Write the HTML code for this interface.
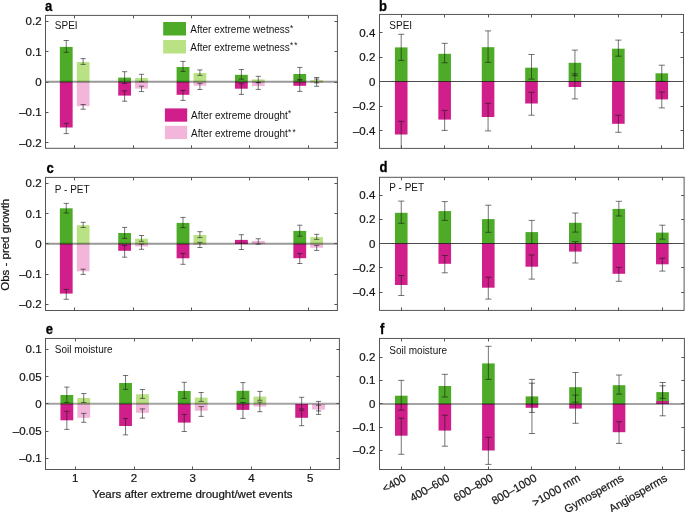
<!DOCTYPE html>
<html><head><meta charset="utf-8"><style>
html,body{margin:0;padding:0;background:#fff;}
svg{display:block;font-family:"Liberation Sans", sans-serif;}
text{fill:#151515;}
text[font-size="11.5"],text[font-size="11.2"]{stroke:#151515;stroke-width:0.22px;}
text[font-size="14.5"]{fill:#000;stroke:#000;stroke-width:0.3px;}
</style></head><body>
<svg width="685" height="512" viewBox="0 0 685 512">
<rect x="0" y="0" width="685" height="512" fill="#fff"/>
<rect x="59.84" y="46.90" width="12.80" height="35.10" fill="#4dab28"/>
<rect x="59.84" y="82.00" width="12.80" height="45.50" fill="#d01f8b"/>
<rect x="76.74" y="62.10" width="12.80" height="19.90" fill="#b9e285"/>
<rect x="76.74" y="82.00" width="12.80" height="24.20" fill="#f1b6d9"/>
<rect x="118.22" y="77.60" width="12.80" height="4.40" fill="#4dab28"/>
<rect x="118.22" y="82.00" width="12.80" height="13.60" fill="#d01f8b"/>
<rect x="135.12" y="78.00" width="12.80" height="4.00" fill="#b9e285"/>
<rect x="135.12" y="82.00" width="12.80" height="6.60" fill="#f1b6d9"/>
<rect x="176.60" y="67.00" width="12.80" height="15.00" fill="#4dab28"/>
<rect x="176.60" y="82.00" width="12.80" height="12.80" fill="#d01f8b"/>
<rect x="193.50" y="73.00" width="12.80" height="9.00" fill="#b9e285"/>
<rect x="193.50" y="82.00" width="12.80" height="3.70" fill="#f1b6d9"/>
<rect x="234.98" y="74.80" width="12.80" height="7.20" fill="#4dab28"/>
<rect x="234.98" y="82.00" width="12.80" height="6.70" fill="#d01f8b"/>
<rect x="251.88" y="79.40" width="12.80" height="2.60" fill="#b9e285"/>
<rect x="251.88" y="82.00" width="12.80" height="4.10" fill="#f1b6d9"/>
<rect x="293.36" y="74.00" width="12.80" height="8.00" fill="#4dab28"/>
<rect x="293.36" y="82.00" width="12.80" height="3.80" fill="#d01f8b"/>
<rect x="310.26" y="80.20" width="12.80" height="1.80" fill="#b9e285"/>
<rect x="310.26" y="82.00" width="12.80" height="0.60" fill="#f1b6d9"/>
<line x1="45.50" y1="81.75" x2="337.40" y2="81.75" stroke="#999999" stroke-width="2" style="mix-blend-mode:multiply"/>
<line x1="66.24" y1="40.50" x2="66.24" y2="52.30" stroke="#1a1a1a" stroke-width="0.6" />
<line x1="63.64" y1="40.50" x2="68.84" y2="40.50" stroke="#1a1a1a" stroke-width="0.6" />
<line x1="63.64" y1="52.30" x2="68.84" y2="52.30" stroke="#1a1a1a" stroke-width="0.6" />
<line x1="66.24" y1="123.30" x2="66.24" y2="133.60" stroke="#1a1a1a" stroke-width="0.6" />
<line x1="63.64" y1="123.30" x2="68.84" y2="123.30" stroke="#1a1a1a" stroke-width="0.6" />
<line x1="63.64" y1="133.60" x2="68.84" y2="133.60" stroke="#1a1a1a" stroke-width="0.6" />
<line x1="83.14" y1="58.60" x2="83.14" y2="64.40" stroke="#1a1a1a" stroke-width="0.6" />
<line x1="80.54" y1="58.60" x2="85.74" y2="58.60" stroke="#1a1a1a" stroke-width="0.6" />
<line x1="80.54" y1="64.40" x2="85.74" y2="64.40" stroke="#1a1a1a" stroke-width="0.6" />
<line x1="83.14" y1="104.50" x2="83.14" y2="109.20" stroke="#1a1a1a" stroke-width="0.6" />
<line x1="80.54" y1="104.50" x2="85.74" y2="104.50" stroke="#1a1a1a" stroke-width="0.6" />
<line x1="80.54" y1="109.20" x2="85.74" y2="109.20" stroke="#1a1a1a" stroke-width="0.6" />
<line x1="124.62" y1="71.70" x2="124.62" y2="83.60" stroke="#1a1a1a" stroke-width="0.6" />
<line x1="122.02" y1="71.70" x2="127.22" y2="71.70" stroke="#1a1a1a" stroke-width="0.6" />
<line x1="122.02" y1="83.60" x2="127.22" y2="83.60" stroke="#1a1a1a" stroke-width="0.6" />
<line x1="124.62" y1="90.90" x2="124.62" y2="101.20" stroke="#1a1a1a" stroke-width="0.6" />
<line x1="122.02" y1="90.90" x2="127.22" y2="90.90" stroke="#1a1a1a" stroke-width="0.6" />
<line x1="122.02" y1="101.20" x2="127.22" y2="101.20" stroke="#1a1a1a" stroke-width="0.6" />
<line x1="141.52" y1="74.30" x2="141.52" y2="81.70" stroke="#1a1a1a" stroke-width="0.6" />
<line x1="138.92" y1="74.30" x2="144.12" y2="74.30" stroke="#1a1a1a" stroke-width="0.6" />
<line x1="138.92" y1="81.70" x2="144.12" y2="81.70" stroke="#1a1a1a" stroke-width="0.6" />
<line x1="141.52" y1="86.20" x2="141.52" y2="91.60" stroke="#1a1a1a" stroke-width="0.6" />
<line x1="138.92" y1="86.20" x2="144.12" y2="86.20" stroke="#1a1a1a" stroke-width="0.6" />
<line x1="138.92" y1="91.60" x2="144.12" y2="91.60" stroke="#1a1a1a" stroke-width="0.6" />
<line x1="183.00" y1="61.40" x2="183.00" y2="71.40" stroke="#1a1a1a" stroke-width="0.6" />
<line x1="180.40" y1="61.40" x2="185.60" y2="61.40" stroke="#1a1a1a" stroke-width="0.6" />
<line x1="180.40" y1="71.40" x2="185.60" y2="71.40" stroke="#1a1a1a" stroke-width="0.6" />
<line x1="183.00" y1="90.40" x2="183.00" y2="100.40" stroke="#1a1a1a" stroke-width="0.6" />
<line x1="180.40" y1="90.40" x2="185.60" y2="90.40" stroke="#1a1a1a" stroke-width="0.6" />
<line x1="180.40" y1="100.40" x2="185.60" y2="100.40" stroke="#1a1a1a" stroke-width="0.6" />
<line x1="199.90" y1="69.90" x2="199.90" y2="75.40" stroke="#1a1a1a" stroke-width="0.6" />
<line x1="197.30" y1="69.90" x2="202.50" y2="69.90" stroke="#1a1a1a" stroke-width="0.6" />
<line x1="197.30" y1="75.40" x2="202.50" y2="75.40" stroke="#1a1a1a" stroke-width="0.6" />
<line x1="199.90" y1="83.40" x2="199.90" y2="89.50" stroke="#1a1a1a" stroke-width="0.6" />
<line x1="197.30" y1="83.40" x2="202.50" y2="83.40" stroke="#1a1a1a" stroke-width="0.6" />
<line x1="197.30" y1="89.50" x2="202.50" y2="89.50" stroke="#1a1a1a" stroke-width="0.6" />
<line x1="241.38" y1="69.50" x2="241.38" y2="79.20" stroke="#1a1a1a" stroke-width="0.6" />
<line x1="238.78" y1="69.50" x2="243.98" y2="69.50" stroke="#1a1a1a" stroke-width="0.6" />
<line x1="238.78" y1="79.20" x2="243.98" y2="79.20" stroke="#1a1a1a" stroke-width="0.6" />
<line x1="241.38" y1="83.60" x2="241.38" y2="94.40" stroke="#1a1a1a" stroke-width="0.6" />
<line x1="238.78" y1="83.60" x2="243.98" y2="83.60" stroke="#1a1a1a" stroke-width="0.6" />
<line x1="238.78" y1="94.40" x2="243.98" y2="94.40" stroke="#1a1a1a" stroke-width="0.6" />
<line x1="258.28" y1="76.30" x2="258.28" y2="82.50" stroke="#1a1a1a" stroke-width="0.6" />
<line x1="255.68" y1="76.30" x2="260.88" y2="76.30" stroke="#1a1a1a" stroke-width="0.6" />
<line x1="255.68" y1="82.50" x2="260.88" y2="82.50" stroke="#1a1a1a" stroke-width="0.6" />
<line x1="258.28" y1="82.80" x2="258.28" y2="89.40" stroke="#1a1a1a" stroke-width="0.6" />
<line x1="255.68" y1="82.80" x2="260.88" y2="82.80" stroke="#1a1a1a" stroke-width="0.6" />
<line x1="255.68" y1="89.40" x2="260.88" y2="89.40" stroke="#1a1a1a" stroke-width="0.6" />
<line x1="299.76" y1="67.40" x2="299.76" y2="79.40" stroke="#1a1a1a" stroke-width="0.6" />
<line x1="297.16" y1="67.40" x2="302.36" y2="67.40" stroke="#1a1a1a" stroke-width="0.6" />
<line x1="297.16" y1="79.40" x2="302.36" y2="79.40" stroke="#1a1a1a" stroke-width="0.6" />
<line x1="299.76" y1="80.20" x2="299.76" y2="91.40" stroke="#1a1a1a" stroke-width="0.6" />
<line x1="297.16" y1="80.20" x2="302.36" y2="80.20" stroke="#1a1a1a" stroke-width="0.6" />
<line x1="297.16" y1="91.40" x2="302.36" y2="91.40" stroke="#1a1a1a" stroke-width="0.6" />
<line x1="316.66" y1="77.50" x2="316.66" y2="82.90" stroke="#1a1a1a" stroke-width="0.6" />
<line x1="314.06" y1="77.50" x2="319.26" y2="77.50" stroke="#1a1a1a" stroke-width="0.6" />
<line x1="314.06" y1="82.90" x2="319.26" y2="82.90" stroke="#1a1a1a" stroke-width="0.6" />
<line x1="316.66" y1="79.00" x2="316.66" y2="86.30" stroke="#1a1a1a" stroke-width="0.6" />
<line x1="314.06" y1="79.00" x2="319.26" y2="79.00" stroke="#1a1a1a" stroke-width="0.6" />
<line x1="314.06" y1="86.30" x2="319.26" y2="86.30" stroke="#1a1a1a" stroke-width="0.6" />
<rect x="45.5" y="15.4" width="291.90" height="132.90" fill="none" stroke="#555555" stroke-width="1"/>
<line x1="74.50" y1="148.30" x2="74.50" y2="145.30" stroke="#555555" stroke-width="1" />
<line x1="74.50" y1="15.40" x2="74.50" y2="18.40" stroke="#555555" stroke-width="1" />
<line x1="133.50" y1="148.30" x2="133.50" y2="145.30" stroke="#555555" stroke-width="1" />
<line x1="133.50" y1="15.40" x2="133.50" y2="18.40" stroke="#555555" stroke-width="1" />
<line x1="191.50" y1="148.30" x2="191.50" y2="145.30" stroke="#555555" stroke-width="1" />
<line x1="191.50" y1="15.40" x2="191.50" y2="18.40" stroke="#555555" stroke-width="1" />
<line x1="249.50" y1="148.30" x2="249.50" y2="145.30" stroke="#555555" stroke-width="1" />
<line x1="249.50" y1="15.40" x2="249.50" y2="18.40" stroke="#555555" stroke-width="1" />
<line x1="308.50" y1="148.30" x2="308.50" y2="145.30" stroke="#555555" stroke-width="1" />
<line x1="308.50" y1="15.40" x2="308.50" y2="18.40" stroke="#555555" stroke-width="1" />
<line x1="45.50" y1="21.50" x2="48.50" y2="21.50" stroke="#555555" stroke-width="1" />
<line x1="337.40" y1="21.50" x2="334.40" y2="21.50" stroke="#555555" stroke-width="1" />
<text x="41.60" y="25.24" font-size="11.5" text-anchor="end" font-weight="normal" >0.2</text>
<line x1="45.50" y1="51.50" x2="48.50" y2="51.50" stroke="#555555" stroke-width="1" />
<line x1="337.40" y1="51.50" x2="334.40" y2="51.50" stroke="#555555" stroke-width="1" />
<text x="41.60" y="55.57" font-size="11.5" text-anchor="end" font-weight="normal" >0.1</text>
<line x1="45.50" y1="82.50" x2="48.50" y2="82.50" stroke="#555555" stroke-width="1" />
<line x1="337.40" y1="82.50" x2="334.40" y2="82.50" stroke="#555555" stroke-width="1" />
<text x="41.60" y="85.90" font-size="11.5" text-anchor="end" font-weight="normal" >0</text>
<line x1="45.50" y1="112.50" x2="48.50" y2="112.50" stroke="#555555" stroke-width="1" />
<line x1="337.40" y1="112.50" x2="334.40" y2="112.50" stroke="#555555" stroke-width="1" />
<text x="41.60" y="116.23" font-size="11.5" text-anchor="end" font-weight="normal" >–0.1</text>
<line x1="45.50" y1="142.50" x2="48.50" y2="142.50" stroke="#555555" stroke-width="1" />
<line x1="337.40" y1="142.50" x2="334.40" y2="142.50" stroke="#555555" stroke-width="1" />
<text x="41.60" y="146.56" font-size="11.5" text-anchor="end" font-weight="normal" >–0.2</text>
<rect x="59.84" y="208.30" width="12.80" height="35.70" fill="#4dab28"/>
<rect x="59.84" y="244.00" width="12.80" height="49.60" fill="#d01f8b"/>
<rect x="76.74" y="225.20" width="12.80" height="18.80" fill="#b9e285"/>
<rect x="76.74" y="244.00" width="12.80" height="27.30" fill="#f1b6d9"/>
<rect x="118.22" y="233.00" width="12.80" height="11.00" fill="#4dab28"/>
<rect x="118.22" y="244.00" width="12.80" height="6.80" fill="#d01f8b"/>
<rect x="135.12" y="238.70" width="12.80" height="5.30" fill="#b9e285"/>
<rect x="135.12" y="244.00" width="12.80" height="2.50" fill="#f1b6d9"/>
<rect x="176.60" y="222.90" width="12.80" height="21.10" fill="#4dab28"/>
<rect x="176.60" y="244.00" width="12.80" height="14.30" fill="#d01f8b"/>
<rect x="193.50" y="234.90" width="12.80" height="9.10" fill="#b9e285"/>
<rect x="193.50" y="244.00" width="12.80" height="0.60" fill="#f1b6d9"/>
<rect x="234.98" y="241.50" width="12.80" height="2.50" fill="#4dab28"/>
<rect x="234.98" y="239.90" width="12.80" height="4.10" fill="#d01f8b"/>
<rect x="251.88" y="241.80" width="12.80" height="2.20" fill="#b9e285"/>
<rect x="251.88" y="240.90" width="12.80" height="3.10" fill="#f1b6d9"/>
<rect x="293.36" y="230.90" width="12.80" height="13.10" fill="#4dab28"/>
<rect x="293.36" y="244.00" width="12.80" height="14.20" fill="#d01f8b"/>
<rect x="310.26" y="237.10" width="12.80" height="6.90" fill="#b9e285"/>
<rect x="310.26" y="244.00" width="12.80" height="3.70" fill="#f1b6d9"/>
<line x1="45.50" y1="243.75" x2="337.40" y2="243.75" stroke="#999999" stroke-width="2" style="mix-blend-mode:multiply"/>
<line x1="66.24" y1="203.40" x2="66.24" y2="213.00" stroke="#1a1a1a" stroke-width="0.6" />
<line x1="63.64" y1="203.40" x2="68.84" y2="203.40" stroke="#1a1a1a" stroke-width="0.6" />
<line x1="63.64" y1="213.00" x2="68.84" y2="213.00" stroke="#1a1a1a" stroke-width="0.6" />
<line x1="66.24" y1="289.40" x2="66.24" y2="299.30" stroke="#1a1a1a" stroke-width="0.6" />
<line x1="63.64" y1="289.40" x2="68.84" y2="289.40" stroke="#1a1a1a" stroke-width="0.6" />
<line x1="63.64" y1="299.30" x2="68.84" y2="299.30" stroke="#1a1a1a" stroke-width="0.6" />
<line x1="83.14" y1="222.30" x2="83.14" y2="227.50" stroke="#1a1a1a" stroke-width="0.6" />
<line x1="80.54" y1="222.30" x2="85.74" y2="222.30" stroke="#1a1a1a" stroke-width="0.6" />
<line x1="80.54" y1="227.50" x2="85.74" y2="227.50" stroke="#1a1a1a" stroke-width="0.6" />
<line x1="83.14" y1="269.20" x2="83.14" y2="274.40" stroke="#1a1a1a" stroke-width="0.6" />
<line x1="80.54" y1="269.20" x2="85.74" y2="269.20" stroke="#1a1a1a" stroke-width="0.6" />
<line x1="80.54" y1="274.40" x2="85.74" y2="274.40" stroke="#1a1a1a" stroke-width="0.6" />
<line x1="124.62" y1="227.40" x2="124.62" y2="238.40" stroke="#1a1a1a" stroke-width="0.6" />
<line x1="122.02" y1="227.40" x2="127.22" y2="227.40" stroke="#1a1a1a" stroke-width="0.6" />
<line x1="122.02" y1="238.40" x2="127.22" y2="238.40" stroke="#1a1a1a" stroke-width="0.6" />
<line x1="124.62" y1="245.40" x2="124.62" y2="257.20" stroke="#1a1a1a" stroke-width="0.6" />
<line x1="122.02" y1="245.40" x2="127.22" y2="245.40" stroke="#1a1a1a" stroke-width="0.6" />
<line x1="122.02" y1="257.20" x2="127.22" y2="257.20" stroke="#1a1a1a" stroke-width="0.6" />
<line x1="141.52" y1="235.50" x2="141.52" y2="241.30" stroke="#1a1a1a" stroke-width="0.6" />
<line x1="138.92" y1="235.50" x2="144.12" y2="235.50" stroke="#1a1a1a" stroke-width="0.6" />
<line x1="138.92" y1="241.30" x2="144.12" y2="241.30" stroke="#1a1a1a" stroke-width="0.6" />
<line x1="141.52" y1="244.00" x2="141.52" y2="249.30" stroke="#1a1a1a" stroke-width="0.6" />
<line x1="138.92" y1="244.00" x2="144.12" y2="244.00" stroke="#1a1a1a" stroke-width="0.6" />
<line x1="138.92" y1="249.30" x2="144.12" y2="249.30" stroke="#1a1a1a" stroke-width="0.6" />
<line x1="183.00" y1="217.40" x2="183.00" y2="227.60" stroke="#1a1a1a" stroke-width="0.6" />
<line x1="180.40" y1="217.40" x2="185.60" y2="217.40" stroke="#1a1a1a" stroke-width="0.6" />
<line x1="180.40" y1="227.60" x2="185.60" y2="227.60" stroke="#1a1a1a" stroke-width="0.6" />
<line x1="183.00" y1="253.40" x2="183.00" y2="264.30" stroke="#1a1a1a" stroke-width="0.6" />
<line x1="180.40" y1="253.40" x2="185.60" y2="253.40" stroke="#1a1a1a" stroke-width="0.6" />
<line x1="180.40" y1="264.30" x2="185.60" y2="264.30" stroke="#1a1a1a" stroke-width="0.6" />
<line x1="199.90" y1="231.70" x2="199.90" y2="237.60" stroke="#1a1a1a" stroke-width="0.6" />
<line x1="197.30" y1="231.70" x2="202.50" y2="231.70" stroke="#1a1a1a" stroke-width="0.6" />
<line x1="197.30" y1="237.60" x2="202.50" y2="237.60" stroke="#1a1a1a" stroke-width="0.6" />
<line x1="199.90" y1="242.30" x2="199.90" y2="247.50" stroke="#1a1a1a" stroke-width="0.6" />
<line x1="197.30" y1="242.30" x2="202.50" y2="242.30" stroke="#1a1a1a" stroke-width="0.6" />
<line x1="197.30" y1="247.50" x2="202.50" y2="247.50" stroke="#1a1a1a" stroke-width="0.6" />
<line x1="241.38" y1="234.70" x2="241.38" y2="249.50" stroke="#1a1a1a" stroke-width="0.6" />
<line x1="238.78" y1="234.70" x2="243.98" y2="234.70" stroke="#1a1a1a" stroke-width="0.6" />
<line x1="238.78" y1="249.50" x2="243.98" y2="249.50" stroke="#1a1a1a" stroke-width="0.6" />
<line x1="258.28" y1="238.75" x2="258.28" y2="244.20" stroke="#1a1a1a" stroke-width="0.6" />
<line x1="255.68" y1="238.75" x2="260.88" y2="238.75" stroke="#1a1a1a" stroke-width="0.6" />
<line x1="255.68" y1="244.20" x2="260.88" y2="244.20" stroke="#1a1a1a" stroke-width="0.6" />
<line x1="299.76" y1="225.20" x2="299.76" y2="236.20" stroke="#1a1a1a" stroke-width="0.6" />
<line x1="297.16" y1="225.20" x2="302.36" y2="225.20" stroke="#1a1a1a" stroke-width="0.6" />
<line x1="297.16" y1="236.20" x2="302.36" y2="236.20" stroke="#1a1a1a" stroke-width="0.6" />
<line x1="299.76" y1="253.50" x2="299.76" y2="263.50" stroke="#1a1a1a" stroke-width="0.6" />
<line x1="297.16" y1="253.50" x2="302.36" y2="253.50" stroke="#1a1a1a" stroke-width="0.6" />
<line x1="297.16" y1="263.50" x2="302.36" y2="263.50" stroke="#1a1a1a" stroke-width="0.6" />
<line x1="316.66" y1="234.30" x2="316.66" y2="239.40" stroke="#1a1a1a" stroke-width="0.6" />
<line x1="314.06" y1="234.30" x2="319.26" y2="234.30" stroke="#1a1a1a" stroke-width="0.6" />
<line x1="314.06" y1="239.40" x2="319.26" y2="239.40" stroke="#1a1a1a" stroke-width="0.6" />
<line x1="316.66" y1="245.40" x2="316.66" y2="250.40" stroke="#1a1a1a" stroke-width="0.6" />
<line x1="314.06" y1="245.40" x2="319.26" y2="245.40" stroke="#1a1a1a" stroke-width="0.6" />
<line x1="314.06" y1="250.40" x2="319.26" y2="250.40" stroke="#1a1a1a" stroke-width="0.6" />
<rect x="45.5" y="177.4" width="291.90" height="133.10" fill="none" stroke="#555555" stroke-width="1"/>
<line x1="74.50" y1="310.50" x2="74.50" y2="307.50" stroke="#555555" stroke-width="1" />
<line x1="74.50" y1="177.40" x2="74.50" y2="180.40" stroke="#555555" stroke-width="1" />
<line x1="133.50" y1="310.50" x2="133.50" y2="307.50" stroke="#555555" stroke-width="1" />
<line x1="133.50" y1="177.40" x2="133.50" y2="180.40" stroke="#555555" stroke-width="1" />
<line x1="191.50" y1="310.50" x2="191.50" y2="307.50" stroke="#555555" stroke-width="1" />
<line x1="191.50" y1="177.40" x2="191.50" y2="180.40" stroke="#555555" stroke-width="1" />
<line x1="249.50" y1="310.50" x2="249.50" y2="307.50" stroke="#555555" stroke-width="1" />
<line x1="249.50" y1="177.40" x2="249.50" y2="180.40" stroke="#555555" stroke-width="1" />
<line x1="308.50" y1="310.50" x2="308.50" y2="307.50" stroke="#555555" stroke-width="1" />
<line x1="308.50" y1="177.40" x2="308.50" y2="180.40" stroke="#555555" stroke-width="1" />
<line x1="45.50" y1="183.50" x2="48.50" y2="183.50" stroke="#555555" stroke-width="1" />
<line x1="337.40" y1="183.50" x2="334.40" y2="183.50" stroke="#555555" stroke-width="1" />
<text x="41.60" y="187.35" font-size="11.5" text-anchor="end" font-weight="normal" >0.2</text>
<line x1="45.50" y1="213.50" x2="48.50" y2="213.50" stroke="#555555" stroke-width="1" />
<line x1="337.40" y1="213.50" x2="334.40" y2="213.50" stroke="#555555" stroke-width="1" />
<text x="41.60" y="217.55" font-size="11.5" text-anchor="end" font-weight="normal" >0.1</text>
<line x1="45.50" y1="243.50" x2="48.50" y2="243.50" stroke="#555555" stroke-width="1" />
<line x1="337.40" y1="243.50" x2="334.40" y2="243.50" stroke="#555555" stroke-width="1" />
<text x="41.60" y="247.75" font-size="11.5" text-anchor="end" font-weight="normal" >0</text>
<line x1="45.50" y1="274.50" x2="48.50" y2="274.50" stroke="#555555" stroke-width="1" />
<line x1="337.40" y1="274.50" x2="334.40" y2="274.50" stroke="#555555" stroke-width="1" />
<text x="41.60" y="277.95" font-size="11.5" text-anchor="end" font-weight="normal" >–0.1</text>
<line x1="45.50" y1="304.50" x2="48.50" y2="304.50" stroke="#555555" stroke-width="1" />
<line x1="337.40" y1="304.50" x2="334.40" y2="304.50" stroke="#555555" stroke-width="1" />
<text x="41.60" y="308.15" font-size="11.5" text-anchor="end" font-weight="normal" >–0.2</text>
<rect x="60.45" y="395.00" width="12.80" height="9.00" fill="#4dab28"/>
<rect x="60.45" y="404.00" width="12.80" height="16.30" fill="#d01f8b"/>
<rect x="77.35" y="398.00" width="12.80" height="6.00" fill="#b9e285"/>
<rect x="77.35" y="404.00" width="12.80" height="13.80" fill="#f1b6d9"/>
<rect x="119.15" y="383.00" width="12.80" height="21.00" fill="#4dab28"/>
<rect x="119.15" y="404.00" width="12.80" height="22.00" fill="#d01f8b"/>
<rect x="136.05" y="394.20" width="12.80" height="9.80" fill="#b9e285"/>
<rect x="136.05" y="404.00" width="12.80" height="8.80" fill="#f1b6d9"/>
<rect x="177.85" y="390.90" width="12.80" height="13.10" fill="#4dab28"/>
<rect x="177.85" y="404.00" width="12.80" height="18.60" fill="#d01f8b"/>
<rect x="194.75" y="397.60" width="12.80" height="6.40" fill="#b9e285"/>
<rect x="194.75" y="404.00" width="12.80" height="6.70" fill="#f1b6d9"/>
<rect x="236.55" y="390.80" width="12.80" height="13.20" fill="#4dab28"/>
<rect x="236.55" y="404.00" width="12.80" height="5.90" fill="#d01f8b"/>
<rect x="253.45" y="396.60" width="12.80" height="7.40" fill="#b9e285"/>
<rect x="253.45" y="404.00" width="12.80" height="2.50" fill="#f1b6d9"/>
<rect x="295.25" y="404.00" width="12.80" height="0.00" fill="#4dab28"/>
<rect x="295.25" y="404.00" width="12.80" height="13.80" fill="#d01f8b"/>
<rect x="312.15" y="404.00" width="12.80" height="0.00" fill="#b9e285"/>
<rect x="312.15" y="404.00" width="12.80" height="5.60" fill="#f1b6d9"/>
<line x1="45.50" y1="403.75" x2="339.40" y2="403.75" stroke="#a3a3a3" stroke-width="2" style="mix-blend-mode:multiply"/>
<line x1="66.85" y1="387.10" x2="66.85" y2="402.50" stroke="#1a1a1a" stroke-width="0.6" />
<line x1="64.25" y1="387.10" x2="69.45" y2="387.10" stroke="#1a1a1a" stroke-width="0.6" />
<line x1="64.25" y1="402.50" x2="69.45" y2="402.50" stroke="#1a1a1a" stroke-width="0.6" />
<line x1="66.85" y1="411.30" x2="66.85" y2="429.40" stroke="#1a1a1a" stroke-width="0.6" />
<line x1="64.25" y1="411.30" x2="69.45" y2="411.30" stroke="#1a1a1a" stroke-width="0.6" />
<line x1="64.25" y1="429.40" x2="69.45" y2="429.40" stroke="#1a1a1a" stroke-width="0.6" />
<line x1="83.75" y1="393.50" x2="83.75" y2="402.50" stroke="#1a1a1a" stroke-width="0.6" />
<line x1="81.15" y1="393.50" x2="86.35" y2="393.50" stroke="#1a1a1a" stroke-width="0.6" />
<line x1="81.15" y1="402.50" x2="86.35" y2="402.50" stroke="#1a1a1a" stroke-width="0.6" />
<line x1="83.75" y1="413.40" x2="83.75" y2="422.30" stroke="#1a1a1a" stroke-width="0.6" />
<line x1="81.15" y1="413.40" x2="86.35" y2="413.40" stroke="#1a1a1a" stroke-width="0.6" />
<line x1="81.15" y1="422.30" x2="86.35" y2="422.30" stroke="#1a1a1a" stroke-width="0.6" />
<line x1="125.55" y1="375.50" x2="125.55" y2="389.40" stroke="#1a1a1a" stroke-width="0.6" />
<line x1="122.95" y1="375.50" x2="128.15" y2="375.50" stroke="#1a1a1a" stroke-width="0.6" />
<line x1="122.95" y1="389.40" x2="128.15" y2="389.40" stroke="#1a1a1a" stroke-width="0.6" />
<line x1="125.55" y1="418.50" x2="125.55" y2="434.90" stroke="#1a1a1a" stroke-width="0.6" />
<line x1="122.95" y1="418.50" x2="128.15" y2="418.50" stroke="#1a1a1a" stroke-width="0.6" />
<line x1="122.95" y1="434.90" x2="128.15" y2="434.90" stroke="#1a1a1a" stroke-width="0.6" />
<line x1="142.45" y1="389.50" x2="142.45" y2="398.40" stroke="#1a1a1a" stroke-width="0.6" />
<line x1="139.85" y1="389.50" x2="145.05" y2="389.50" stroke="#1a1a1a" stroke-width="0.6" />
<line x1="139.85" y1="398.40" x2="145.05" y2="398.40" stroke="#1a1a1a" stroke-width="0.6" />
<line x1="142.45" y1="408.90" x2="142.45" y2="418.10" stroke="#1a1a1a" stroke-width="0.6" />
<line x1="139.85" y1="408.90" x2="145.05" y2="408.90" stroke="#1a1a1a" stroke-width="0.6" />
<line x1="139.85" y1="418.10" x2="145.05" y2="418.10" stroke="#1a1a1a" stroke-width="0.6" />
<line x1="184.25" y1="382.30" x2="184.25" y2="398.40" stroke="#1a1a1a" stroke-width="0.6" />
<line x1="181.65" y1="382.30" x2="186.85" y2="382.30" stroke="#1a1a1a" stroke-width="0.6" />
<line x1="181.65" y1="398.40" x2="186.85" y2="398.40" stroke="#1a1a1a" stroke-width="0.6" />
<line x1="184.25" y1="414.40" x2="184.25" y2="431.50" stroke="#1a1a1a" stroke-width="0.6" />
<line x1="181.65" y1="414.40" x2="186.85" y2="414.40" stroke="#1a1a1a" stroke-width="0.6" />
<line x1="181.65" y1="431.50" x2="186.85" y2="431.50" stroke="#1a1a1a" stroke-width="0.6" />
<line x1="201.15" y1="392.50" x2="201.15" y2="401.40" stroke="#1a1a1a" stroke-width="0.6" />
<line x1="198.55" y1="392.50" x2="203.75" y2="392.50" stroke="#1a1a1a" stroke-width="0.6" />
<line x1="198.55" y1="401.40" x2="203.75" y2="401.40" stroke="#1a1a1a" stroke-width="0.6" />
<line x1="201.15" y1="406.60" x2="201.15" y2="416.40" stroke="#1a1a1a" stroke-width="0.6" />
<line x1="198.55" y1="406.60" x2="203.75" y2="406.60" stroke="#1a1a1a" stroke-width="0.6" />
<line x1="198.55" y1="416.40" x2="203.75" y2="416.40" stroke="#1a1a1a" stroke-width="0.6" />
<line x1="242.95" y1="382.60" x2="242.95" y2="398.40" stroke="#1a1a1a" stroke-width="0.6" />
<line x1="240.35" y1="382.60" x2="245.55" y2="382.60" stroke="#1a1a1a" stroke-width="0.6" />
<line x1="240.35" y1="398.40" x2="245.55" y2="398.40" stroke="#1a1a1a" stroke-width="0.6" />
<line x1="242.95" y1="402.50" x2="242.95" y2="418.40" stroke="#1a1a1a" stroke-width="0.6" />
<line x1="240.35" y1="402.50" x2="245.55" y2="402.50" stroke="#1a1a1a" stroke-width="0.6" />
<line x1="240.35" y1="418.40" x2="245.55" y2="418.40" stroke="#1a1a1a" stroke-width="0.6" />
<line x1="259.85" y1="391.40" x2="259.85" y2="400.30" stroke="#1a1a1a" stroke-width="0.6" />
<line x1="257.25" y1="391.40" x2="262.45" y2="391.40" stroke="#1a1a1a" stroke-width="0.6" />
<line x1="257.25" y1="400.30" x2="262.45" y2="400.30" stroke="#1a1a1a" stroke-width="0.6" />
<line x1="259.85" y1="402.10" x2="259.85" y2="411.70" stroke="#1a1a1a" stroke-width="0.6" />
<line x1="257.25" y1="402.10" x2="262.45" y2="402.10" stroke="#1a1a1a" stroke-width="0.6" />
<line x1="257.25" y1="411.70" x2="262.45" y2="411.70" stroke="#1a1a1a" stroke-width="0.6" />
<line x1="301.65" y1="397.30" x2="301.65" y2="409.00" stroke="#1a1a1a" stroke-width="0.6" />
<line x1="299.05" y1="397.30" x2="304.25" y2="397.30" stroke="#1a1a1a" stroke-width="0.6" />
<line x1="299.05" y1="409.00" x2="304.25" y2="409.00" stroke="#1a1a1a" stroke-width="0.6" />
<line x1="301.65" y1="410.30" x2="301.65" y2="425.70" stroke="#1a1a1a" stroke-width="0.6" />
<line x1="299.05" y1="410.30" x2="304.25" y2="410.30" stroke="#1a1a1a" stroke-width="0.6" />
<line x1="299.05" y1="425.70" x2="304.25" y2="425.70" stroke="#1a1a1a" stroke-width="0.6" />
<line x1="318.55" y1="401.40" x2="318.55" y2="411.00" stroke="#1a1a1a" stroke-width="0.6" />
<line x1="315.95" y1="401.40" x2="321.15" y2="401.40" stroke="#1a1a1a" stroke-width="0.6" />
<line x1="315.95" y1="411.00" x2="321.15" y2="411.00" stroke="#1a1a1a" stroke-width="0.6" />
<line x1="318.55" y1="405.20" x2="318.55" y2="414.40" stroke="#1a1a1a" stroke-width="0.6" />
<line x1="315.95" y1="405.20" x2="321.15" y2="405.20" stroke="#1a1a1a" stroke-width="0.6" />
<line x1="315.95" y1="414.40" x2="321.15" y2="414.40" stroke="#1a1a1a" stroke-width="0.6" />
<rect x="45.5" y="338.45" width="293.90" height="131.05" fill="none" stroke="#555555" stroke-width="1"/>
<line x1="75.50" y1="469.50" x2="75.50" y2="466.50" stroke="#555555" stroke-width="1" />
<line x1="75.50" y1="338.45" x2="75.50" y2="341.45" stroke="#555555" stroke-width="1" />
<line x1="134.50" y1="469.50" x2="134.50" y2="466.50" stroke="#555555" stroke-width="1" />
<line x1="134.50" y1="338.45" x2="134.50" y2="341.45" stroke="#555555" stroke-width="1" />
<line x1="192.50" y1="469.50" x2="192.50" y2="466.50" stroke="#555555" stroke-width="1" />
<line x1="192.50" y1="338.45" x2="192.50" y2="341.45" stroke="#555555" stroke-width="1" />
<line x1="251.50" y1="469.50" x2="251.50" y2="466.50" stroke="#555555" stroke-width="1" />
<line x1="251.50" y1="338.45" x2="251.50" y2="341.45" stroke="#555555" stroke-width="1" />
<line x1="310.50" y1="469.50" x2="310.50" y2="466.50" stroke="#555555" stroke-width="1" />
<line x1="310.50" y1="338.45" x2="310.50" y2="341.45" stroke="#555555" stroke-width="1" />
<line x1="45.50" y1="349.50" x2="48.50" y2="349.50" stroke="#555555" stroke-width="1" />
<line x1="339.40" y1="349.50" x2="336.40" y2="349.50" stroke="#555555" stroke-width="1" />
<text x="41.60" y="353.30" font-size="11.5" text-anchor="end" font-weight="normal" >0.1</text>
<line x1="45.50" y1="376.50" x2="48.50" y2="376.50" stroke="#555555" stroke-width="1" />
<line x1="339.40" y1="376.50" x2="336.40" y2="376.50" stroke="#555555" stroke-width="1" />
<text x="41.60" y="380.55" font-size="11.5" text-anchor="end" font-weight="normal" >0.05</text>
<line x1="45.50" y1="403.50" x2="48.50" y2="403.50" stroke="#555555" stroke-width="1" />
<line x1="339.40" y1="403.50" x2="336.40" y2="403.50" stroke="#555555" stroke-width="1" />
<text x="41.60" y="407.80" font-size="11.5" text-anchor="end" font-weight="normal" >0</text>
<line x1="45.50" y1="431.50" x2="48.50" y2="431.50" stroke="#555555" stroke-width="1" />
<line x1="339.40" y1="431.50" x2="336.40" y2="431.50" stroke="#555555" stroke-width="1" />
<text x="41.60" y="435.05" font-size="11.5" text-anchor="end" font-weight="normal" >–0.05</text>
<line x1="45.50" y1="458.50" x2="48.50" y2="458.50" stroke="#555555" stroke-width="1" />
<line x1="339.40" y1="458.50" x2="336.40" y2="458.50" stroke="#555555" stroke-width="1" />
<text x="41.60" y="462.30" font-size="11.5" text-anchor="end" font-weight="normal" >–0.1</text>
<text x="75.30" y="482.30" font-size="11.5" text-anchor="middle" font-weight="normal" >1</text>
<text x="134.00" y="482.30" font-size="11.5" text-anchor="middle" font-weight="normal" >2</text>
<text x="192.70" y="482.30" font-size="11.5" text-anchor="middle" font-weight="normal" >3</text>
<text x="251.40" y="482.30" font-size="11.5" text-anchor="middle" font-weight="normal" >4</text>
<text x="310.10" y="482.30" font-size="11.5" text-anchor="middle" font-weight="normal" >5</text>
<text x="192.45" y="497.90" font-size="11.5" text-anchor="middle" font-weight="normal" >Years after extreme drought/wet events</text>
<text x="54.80" y="28.70" font-size="10" text-anchor="start" font-weight="normal" >SPEI</text>
<text x="54.80" y="192.50" font-size="10" text-anchor="start" font-weight="normal" >P - PET</text>
<text x="54.80" y="352.90" font-size="10" text-anchor="start" font-weight="normal" >Soil moisture</text>
<rect x="163.20" y="22.00" width="22.80" height="13.50" fill="#4dab28"/>
<text x="190.30" y="33.20" font-size="10" text-anchor="start" font-weight="normal" >After extreme wetness<tspan font-size="8.2" dx="0.3" dy="-2.2">*</tspan></text>
<rect x="163.20" y="40.00" width="22.80" height="13.50" fill="#b9e285"/>
<text x="190.30" y="50.60" font-size="10" text-anchor="start" font-weight="normal" >After extreme wetness<tspan font-size="8.2" dx="0.3" dy="-2.2" letter-spacing="1.1">**</tspan></text>
<rect x="164.90" y="108.40" width="22.30" height="13.30" fill="#d01f8b"/>
<text x="191.10" y="118.60" font-size="10" text-anchor="start" font-weight="normal" >After extreme drought<tspan font-size="8.2" dx="0.3" dy="-2.2">*</tspan></text>
<rect x="164.90" y="125.80" width="22.30" height="13.30" fill="#f1b6d9"/>
<text x="191.10" y="137.00" font-size="10" text-anchor="start" font-weight="normal" >After extreme drought<tspan font-size="8.2" dx="0.3" dy="-2.2" letter-spacing="1.1">**</tspan></text>
<rect x="394.91" y="47.40" width="12.60" height="34.10" fill="#4dab28"/>
<rect x="394.91" y="81.50" width="12.60" height="53.00" fill="#d01f8b"/>
<rect x="438.34" y="53.80" width="12.60" height="27.70" fill="#4dab28"/>
<rect x="438.34" y="81.50" width="12.60" height="38.10" fill="#d01f8b"/>
<rect x="481.77" y="47.20" width="12.60" height="34.30" fill="#4dab28"/>
<rect x="481.77" y="81.50" width="12.60" height="35.50" fill="#d01f8b"/>
<rect x="525.20" y="67.70" width="12.60" height="13.80" fill="#4dab28"/>
<rect x="525.20" y="81.50" width="12.60" height="22.00" fill="#d01f8b"/>
<rect x="568.63" y="62.80" width="12.60" height="18.70" fill="#4dab28"/>
<rect x="568.63" y="81.50" width="12.60" height="5.50" fill="#d01f8b"/>
<rect x="612.06" y="48.70" width="12.60" height="32.80" fill="#4dab28"/>
<rect x="612.06" y="81.50" width="12.60" height="42.30" fill="#d01f8b"/>
<rect x="655.49" y="73.30" width="12.60" height="8.20" fill="#4dab28"/>
<rect x="655.49" y="81.50" width="12.60" height="17.90" fill="#d01f8b"/>
<line x1="379.50" y1="81.50" x2="683.50" y2="81.50" stroke="#4c4c4c" stroke-width="1" style="mix-blend-mode:multiply"/>
<line x1="401.21" y1="34.30" x2="401.21" y2="60.40" stroke="#1a1a1a" stroke-width="0.6" />
<line x1="398.11" y1="34.30" x2="404.31" y2="34.30" stroke="#1a1a1a" stroke-width="0.6" />
<line x1="398.11" y1="60.40" x2="404.31" y2="60.40" stroke="#1a1a1a" stroke-width="0.6" />
<line x1="401.21" y1="121.30" x2="401.21" y2="148.40" stroke="#1a1a1a" stroke-width="0.6" />
<line x1="398.11" y1="121.30" x2="404.31" y2="121.30" stroke="#1a1a1a" stroke-width="0.6" />
<line x1="444.64" y1="43.30" x2="444.64" y2="62.80" stroke="#1a1a1a" stroke-width="0.6" />
<line x1="441.54" y1="43.30" x2="447.74" y2="43.30" stroke="#1a1a1a" stroke-width="0.6" />
<line x1="441.54" y1="62.80" x2="447.74" y2="62.80" stroke="#1a1a1a" stroke-width="0.6" />
<line x1="444.64" y1="110.40" x2="444.64" y2="130.40" stroke="#1a1a1a" stroke-width="0.6" />
<line x1="441.54" y1="110.40" x2="447.74" y2="110.40" stroke="#1a1a1a" stroke-width="0.6" />
<line x1="441.54" y1="130.40" x2="447.74" y2="130.40" stroke="#1a1a1a" stroke-width="0.6" />
<line x1="488.07" y1="30.90" x2="488.07" y2="62.30" stroke="#1a1a1a" stroke-width="0.6" />
<line x1="484.97" y1="30.90" x2="491.17" y2="30.90" stroke="#1a1a1a" stroke-width="0.6" />
<line x1="484.97" y1="62.30" x2="491.17" y2="62.30" stroke="#1a1a1a" stroke-width="0.6" />
<line x1="488.07" y1="103.30" x2="488.07" y2="130.90" stroke="#1a1a1a" stroke-width="0.6" />
<line x1="484.97" y1="103.30" x2="491.17" y2="103.30" stroke="#1a1a1a" stroke-width="0.6" />
<line x1="484.97" y1="130.90" x2="491.17" y2="130.90" stroke="#1a1a1a" stroke-width="0.6" />
<line x1="531.50" y1="54.50" x2="531.50" y2="79.10" stroke="#1a1a1a" stroke-width="0.6" />
<line x1="528.40" y1="54.50" x2="534.60" y2="54.50" stroke="#1a1a1a" stroke-width="0.6" />
<line x1="528.40" y1="79.10" x2="534.60" y2="79.10" stroke="#1a1a1a" stroke-width="0.6" />
<line x1="531.50" y1="92.30" x2="531.50" y2="115.20" stroke="#1a1a1a" stroke-width="0.6" />
<line x1="528.40" y1="92.30" x2="534.60" y2="92.30" stroke="#1a1a1a" stroke-width="0.6" />
<line x1="528.40" y1="115.20" x2="534.60" y2="115.20" stroke="#1a1a1a" stroke-width="0.6" />
<line x1="574.93" y1="50.10" x2="574.93" y2="75.70" stroke="#1a1a1a" stroke-width="0.6" />
<line x1="571.83" y1="50.10" x2="578.03" y2="50.10" stroke="#1a1a1a" stroke-width="0.6" />
<line x1="571.83" y1="75.70" x2="578.03" y2="75.70" stroke="#1a1a1a" stroke-width="0.6" />
<line x1="574.93" y1="73.80" x2="574.93" y2="98.90" stroke="#1a1a1a" stroke-width="0.6" />
<line x1="571.83" y1="73.80" x2="578.03" y2="73.80" stroke="#1a1a1a" stroke-width="0.6" />
<line x1="571.83" y1="98.90" x2="578.03" y2="98.90" stroke="#1a1a1a" stroke-width="0.6" />
<line x1="618.36" y1="40.10" x2="618.36" y2="56.20" stroke="#1a1a1a" stroke-width="0.6" />
<line x1="615.26" y1="40.10" x2="621.46" y2="40.10" stroke="#1a1a1a" stroke-width="0.6" />
<line x1="615.26" y1="56.20" x2="621.46" y2="56.20" stroke="#1a1a1a" stroke-width="0.6" />
<line x1="618.36" y1="115.20" x2="618.36" y2="132.30" stroke="#1a1a1a" stroke-width="0.6" />
<line x1="615.26" y1="115.20" x2="621.46" y2="115.20" stroke="#1a1a1a" stroke-width="0.6" />
<line x1="615.26" y1="132.30" x2="621.46" y2="132.30" stroke="#1a1a1a" stroke-width="0.6" />
<line x1="661.79" y1="65.20" x2="661.79" y2="81.30" stroke="#1a1a1a" stroke-width="0.6" />
<line x1="658.69" y1="65.20" x2="664.89" y2="65.20" stroke="#1a1a1a" stroke-width="0.6" />
<line x1="658.69" y1="81.30" x2="664.89" y2="81.30" stroke="#1a1a1a" stroke-width="0.6" />
<line x1="661.79" y1="92.00" x2="661.79" y2="107.90" stroke="#1a1a1a" stroke-width="0.6" />
<line x1="658.69" y1="92.00" x2="664.89" y2="92.00" stroke="#1a1a1a" stroke-width="0.6" />
<line x1="658.69" y1="107.90" x2="664.89" y2="107.90" stroke="#1a1a1a" stroke-width="0.6" />
<rect x="379.5" y="14.45" width="304.00" height="133.95" fill="none" stroke="#555555" stroke-width="1"/>
<line x1="401.50" y1="148.40" x2="401.50" y2="145.40" stroke="#555555" stroke-width="1" />
<line x1="401.50" y1="14.45" x2="401.50" y2="17.45" stroke="#555555" stroke-width="1" />
<line x1="444.50" y1="148.40" x2="444.50" y2="145.40" stroke="#555555" stroke-width="1" />
<line x1="444.50" y1="14.45" x2="444.50" y2="17.45" stroke="#555555" stroke-width="1" />
<line x1="488.50" y1="148.40" x2="488.50" y2="145.40" stroke="#555555" stroke-width="1" />
<line x1="488.50" y1="14.45" x2="488.50" y2="17.45" stroke="#555555" stroke-width="1" />
<line x1="531.50" y1="148.40" x2="531.50" y2="145.40" stroke="#555555" stroke-width="1" />
<line x1="531.50" y1="14.45" x2="531.50" y2="17.45" stroke="#555555" stroke-width="1" />
<line x1="574.50" y1="148.40" x2="574.50" y2="145.40" stroke="#555555" stroke-width="1" />
<line x1="574.50" y1="14.45" x2="574.50" y2="17.45" stroke="#555555" stroke-width="1" />
<line x1="618.50" y1="148.40" x2="618.50" y2="145.40" stroke="#555555" stroke-width="1" />
<line x1="618.50" y1="14.45" x2="618.50" y2="17.45" stroke="#555555" stroke-width="1" />
<line x1="661.50" y1="148.40" x2="661.50" y2="145.40" stroke="#555555" stroke-width="1" />
<line x1="661.50" y1="14.45" x2="661.50" y2="17.45" stroke="#555555" stroke-width="1" />
<line x1="379.50" y1="32.50" x2="382.50" y2="32.50" stroke="#555555" stroke-width="1" />
<line x1="683.50" y1="32.50" x2="680.50" y2="32.50" stroke="#555555" stroke-width="1" />
<text x="375.30" y="36.50" font-size="11.5" text-anchor="end" font-weight="normal" >0.4</text>
<line x1="379.50" y1="57.50" x2="382.50" y2="57.50" stroke="#555555" stroke-width="1" />
<line x1="683.50" y1="57.50" x2="680.50" y2="57.50" stroke="#555555" stroke-width="1" />
<text x="375.30" y="61.00" font-size="11.5" text-anchor="end" font-weight="normal" >0.2</text>
<line x1="379.50" y1="81.50" x2="382.50" y2="81.50" stroke="#555555" stroke-width="1" />
<line x1="683.50" y1="81.50" x2="680.50" y2="81.50" stroke="#555555" stroke-width="1" />
<text x="375.30" y="85.50" font-size="11.5" text-anchor="end" font-weight="normal" >0</text>
<line x1="379.50" y1="106.50" x2="382.50" y2="106.50" stroke="#555555" stroke-width="1" />
<line x1="683.50" y1="106.50" x2="680.50" y2="106.50" stroke="#555555" stroke-width="1" />
<text x="375.30" y="110.00" font-size="11.5" text-anchor="end" font-weight="normal" >–0.2</text>
<line x1="379.50" y1="130.50" x2="382.50" y2="130.50" stroke="#555555" stroke-width="1" />
<line x1="683.50" y1="130.50" x2="680.50" y2="130.50" stroke="#555555" stroke-width="1" />
<text x="375.30" y="134.50" font-size="11.5" text-anchor="end" font-weight="normal" >–0.4</text>
<rect x="394.96" y="212.80" width="12.60" height="30.70" fill="#4dab28"/>
<rect x="394.96" y="243.50" width="12.60" height="41.50" fill="#d01f8b"/>
<rect x="438.47" y="211.10" width="12.60" height="32.40" fill="#4dab28"/>
<rect x="438.47" y="243.50" width="12.60" height="20.30" fill="#d01f8b"/>
<rect x="481.99" y="219.10" width="12.60" height="24.40" fill="#4dab28"/>
<rect x="481.99" y="243.50" width="12.60" height="44.20" fill="#d01f8b"/>
<rect x="525.50" y="232.10" width="12.60" height="11.40" fill="#4dab28"/>
<rect x="525.50" y="243.50" width="12.60" height="23.20" fill="#d01f8b"/>
<rect x="569.01" y="222.80" width="12.60" height="20.70" fill="#4dab28"/>
<rect x="569.01" y="243.50" width="12.60" height="8.10" fill="#d01f8b"/>
<rect x="612.53" y="208.90" width="12.60" height="34.60" fill="#4dab28"/>
<rect x="612.53" y="243.50" width="12.60" height="30.30" fill="#d01f8b"/>
<rect x="656.04" y="232.60" width="12.60" height="10.90" fill="#4dab28"/>
<rect x="656.04" y="243.50" width="12.60" height="20.80" fill="#d01f8b"/>
<line x1="379.50" y1="243.50" x2="684.10" y2="243.50" stroke="#4c4c4c" stroke-width="1" style="mix-blend-mode:multiply"/>
<line x1="401.26" y1="201.10" x2="401.26" y2="223.30" stroke="#1a1a1a" stroke-width="0.6" />
<line x1="398.16" y1="201.10" x2="404.36" y2="201.10" stroke="#1a1a1a" stroke-width="0.6" />
<line x1="398.16" y1="223.30" x2="404.36" y2="223.30" stroke="#1a1a1a" stroke-width="0.6" />
<line x1="401.26" y1="275.50" x2="401.26" y2="295.50" stroke="#1a1a1a" stroke-width="0.6" />
<line x1="398.16" y1="275.50" x2="404.36" y2="275.50" stroke="#1a1a1a" stroke-width="0.6" />
<line x1="398.16" y1="295.50" x2="404.36" y2="295.50" stroke="#1a1a1a" stroke-width="0.6" />
<line x1="444.77" y1="201.60" x2="444.77" y2="220.40" stroke="#1a1a1a" stroke-width="0.6" />
<line x1="441.67" y1="201.60" x2="447.87" y2="201.60" stroke="#1a1a1a" stroke-width="0.6" />
<line x1="441.67" y1="220.40" x2="447.87" y2="220.40" stroke="#1a1a1a" stroke-width="0.6" />
<line x1="444.77" y1="255.50" x2="444.77" y2="272.80" stroke="#1a1a1a" stroke-width="0.6" />
<line x1="441.67" y1="255.50" x2="447.87" y2="255.50" stroke="#1a1a1a" stroke-width="0.6" />
<line x1="441.67" y1="272.80" x2="447.87" y2="272.80" stroke="#1a1a1a" stroke-width="0.6" />
<line x1="488.29" y1="205.20" x2="488.29" y2="232.30" stroke="#1a1a1a" stroke-width="0.6" />
<line x1="485.19" y1="205.20" x2="491.39" y2="205.20" stroke="#1a1a1a" stroke-width="0.6" />
<line x1="485.19" y1="232.30" x2="491.39" y2="232.30" stroke="#1a1a1a" stroke-width="0.6" />
<line x1="488.29" y1="277.20" x2="488.29" y2="299.10" stroke="#1a1a1a" stroke-width="0.6" />
<line x1="485.19" y1="277.20" x2="491.39" y2="277.20" stroke="#1a1a1a" stroke-width="0.6" />
<line x1="485.19" y1="299.10" x2="491.39" y2="299.10" stroke="#1a1a1a" stroke-width="0.6" />
<line x1="531.80" y1="220.40" x2="531.80" y2="243.60" stroke="#1a1a1a" stroke-width="0.6" />
<line x1="528.70" y1="220.40" x2="534.90" y2="220.40" stroke="#1a1a1a" stroke-width="0.6" />
<line x1="528.70" y1="243.60" x2="534.90" y2="243.60" stroke="#1a1a1a" stroke-width="0.6" />
<line x1="531.80" y1="255.00" x2="531.80" y2="279.10" stroke="#1a1a1a" stroke-width="0.6" />
<line x1="528.70" y1="255.00" x2="534.90" y2="255.00" stroke="#1a1a1a" stroke-width="0.6" />
<line x1="528.70" y1="279.10" x2="534.90" y2="279.10" stroke="#1a1a1a" stroke-width="0.6" />
<line x1="575.31" y1="213.00" x2="575.31" y2="232.10" stroke="#1a1a1a" stroke-width="0.6" />
<line x1="572.21" y1="213.00" x2="578.41" y2="213.00" stroke="#1a1a1a" stroke-width="0.6" />
<line x1="572.21" y1="232.10" x2="578.41" y2="232.10" stroke="#1a1a1a" stroke-width="0.6" />
<line x1="575.31" y1="241.60" x2="575.31" y2="263.00" stroke="#1a1a1a" stroke-width="0.6" />
<line x1="572.21" y1="241.60" x2="578.41" y2="241.60" stroke="#1a1a1a" stroke-width="0.6" />
<line x1="572.21" y1="263.00" x2="578.41" y2="263.00" stroke="#1a1a1a" stroke-width="0.6" />
<line x1="618.83" y1="201.30" x2="618.83" y2="216.00" stroke="#1a1a1a" stroke-width="0.6" />
<line x1="615.73" y1="201.30" x2="621.93" y2="201.30" stroke="#1a1a1a" stroke-width="0.6" />
<line x1="615.73" y1="216.00" x2="621.93" y2="216.00" stroke="#1a1a1a" stroke-width="0.6" />
<line x1="618.83" y1="267.40" x2="618.83" y2="281.30" stroke="#1a1a1a" stroke-width="0.6" />
<line x1="615.73" y1="267.40" x2="621.93" y2="267.40" stroke="#1a1a1a" stroke-width="0.6" />
<line x1="615.73" y1="281.30" x2="621.93" y2="281.30" stroke="#1a1a1a" stroke-width="0.6" />
<line x1="662.34" y1="225.20" x2="662.34" y2="239.10" stroke="#1a1a1a" stroke-width="0.6" />
<line x1="659.24" y1="225.20" x2="665.44" y2="225.20" stroke="#1a1a1a" stroke-width="0.6" />
<line x1="659.24" y1="239.10" x2="665.44" y2="239.10" stroke="#1a1a1a" stroke-width="0.6" />
<line x1="662.34" y1="258.20" x2="662.34" y2="271.10" stroke="#1a1a1a" stroke-width="0.6" />
<line x1="659.24" y1="258.20" x2="665.44" y2="258.20" stroke="#1a1a1a" stroke-width="0.6" />
<line x1="659.24" y1="271.10" x2="665.44" y2="271.10" stroke="#1a1a1a" stroke-width="0.6" />
<rect x="379.5" y="177.3" width="304.60" height="133.10" fill="none" stroke="#555555" stroke-width="1"/>
<line x1="401.50" y1="310.40" x2="401.50" y2="307.40" stroke="#555555" stroke-width="1" />
<line x1="401.50" y1="177.30" x2="401.50" y2="180.30" stroke="#555555" stroke-width="1" />
<line x1="444.50" y1="310.40" x2="444.50" y2="307.40" stroke="#555555" stroke-width="1" />
<line x1="444.50" y1="177.30" x2="444.50" y2="180.30" stroke="#555555" stroke-width="1" />
<line x1="488.50" y1="310.40" x2="488.50" y2="307.40" stroke="#555555" stroke-width="1" />
<line x1="488.50" y1="177.30" x2="488.50" y2="180.30" stroke="#555555" stroke-width="1" />
<line x1="531.50" y1="310.40" x2="531.50" y2="307.40" stroke="#555555" stroke-width="1" />
<line x1="531.50" y1="177.30" x2="531.50" y2="180.30" stroke="#555555" stroke-width="1" />
<line x1="575.50" y1="310.40" x2="575.50" y2="307.40" stroke="#555555" stroke-width="1" />
<line x1="575.50" y1="177.30" x2="575.50" y2="180.30" stroke="#555555" stroke-width="1" />
<line x1="618.50" y1="310.40" x2="618.50" y2="307.40" stroke="#555555" stroke-width="1" />
<line x1="618.50" y1="177.30" x2="618.50" y2="180.30" stroke="#555555" stroke-width="1" />
<line x1="662.50" y1="310.40" x2="662.50" y2="307.40" stroke="#555555" stroke-width="1" />
<line x1="662.50" y1="177.30" x2="662.50" y2="180.30" stroke="#555555" stroke-width="1" />
<line x1="379.50" y1="195.50" x2="382.50" y2="195.50" stroke="#555555" stroke-width="1" />
<line x1="684.10" y1="195.50" x2="681.10" y2="195.50" stroke="#555555" stroke-width="1" />
<text x="375.30" y="199.10" font-size="11.5" text-anchor="end" font-weight="normal" >0.4</text>
<line x1="379.50" y1="219.50" x2="382.50" y2="219.50" stroke="#555555" stroke-width="1" />
<line x1="684.10" y1="219.50" x2="681.10" y2="219.50" stroke="#555555" stroke-width="1" />
<text x="375.30" y="223.30" font-size="11.5" text-anchor="end" font-weight="normal" >0.2</text>
<line x1="379.50" y1="243.50" x2="382.50" y2="243.50" stroke="#555555" stroke-width="1" />
<line x1="684.10" y1="243.50" x2="681.10" y2="243.50" stroke="#555555" stroke-width="1" />
<text x="375.30" y="247.50" font-size="11.5" text-anchor="end" font-weight="normal" >0</text>
<line x1="379.50" y1="267.50" x2="382.50" y2="267.50" stroke="#555555" stroke-width="1" />
<line x1="684.10" y1="267.50" x2="681.10" y2="267.50" stroke="#555555" stroke-width="1" />
<text x="375.30" y="271.70" font-size="11.5" text-anchor="end" font-weight="normal" >–0.2</text>
<line x1="379.50" y1="292.50" x2="382.50" y2="292.50" stroke="#555555" stroke-width="1" />
<line x1="684.10" y1="292.50" x2="681.10" y2="292.50" stroke="#555555" stroke-width="1" />
<text x="375.30" y="295.90" font-size="11.5" text-anchor="end" font-weight="normal" >–0.4</text>
<rect x="394.98" y="395.70" width="12.60" height="8.30" fill="#4dab28"/>
<rect x="394.98" y="404.00" width="12.60" height="31.70" fill="#d01f8b"/>
<rect x="438.54" y="386.00" width="12.60" height="18.00" fill="#4dab28"/>
<rect x="438.54" y="404.00" width="12.60" height="26.60" fill="#d01f8b"/>
<rect x="482.09" y="363.40" width="12.60" height="40.60" fill="#4dab28"/>
<rect x="482.09" y="404.00" width="12.60" height="46.50" fill="#d01f8b"/>
<rect x="525.65" y="396.40" width="12.60" height="7.60" fill="#4dab28"/>
<rect x="525.65" y="404.00" width="12.60" height="3.80" fill="#d01f8b"/>
<rect x="569.21" y="387.20" width="12.60" height="16.80" fill="#4dab28"/>
<rect x="569.21" y="404.00" width="12.60" height="4.60" fill="#d01f8b"/>
<rect x="612.76" y="385.20" width="12.60" height="18.80" fill="#4dab28"/>
<rect x="612.76" y="404.00" width="12.60" height="28.20" fill="#d01f8b"/>
<rect x="656.32" y="392.10" width="12.60" height="11.90" fill="#4dab28"/>
<rect x="656.32" y="401.00" width="12.60" height="3.00" fill="#d01f8b"/>
<line x1="379.50" y1="404.00" x2="684.40" y2="404.00" stroke="#a3a3a3" stroke-width="2" style="mix-blend-mode:multiply"/>
<line x1="401.28" y1="380.40" x2="401.28" y2="410.10" stroke="#1a1a1a" stroke-width="0.6" />
<line x1="398.18" y1="380.40" x2="404.38" y2="380.40" stroke="#1a1a1a" stroke-width="0.6" />
<line x1="398.18" y1="410.10" x2="404.38" y2="410.10" stroke="#1a1a1a" stroke-width="0.6" />
<line x1="401.28" y1="418.20" x2="401.28" y2="454.30" stroke="#1a1a1a" stroke-width="0.6" />
<line x1="398.18" y1="418.20" x2="404.38" y2="418.20" stroke="#1a1a1a" stroke-width="0.6" />
<line x1="398.18" y1="454.30" x2="404.38" y2="454.30" stroke="#1a1a1a" stroke-width="0.6" />
<line x1="444.84" y1="374.30" x2="444.84" y2="397.00" stroke="#1a1a1a" stroke-width="0.6" />
<line x1="441.74" y1="374.30" x2="447.94" y2="374.30" stroke="#1a1a1a" stroke-width="0.6" />
<line x1="441.74" y1="397.00" x2="447.94" y2="397.00" stroke="#1a1a1a" stroke-width="0.6" />
<line x1="444.84" y1="415.20" x2="444.84" y2="446.20" stroke="#1a1a1a" stroke-width="0.6" />
<line x1="441.74" y1="415.20" x2="447.94" y2="415.20" stroke="#1a1a1a" stroke-width="0.6" />
<line x1="441.74" y1="446.20" x2="447.94" y2="446.20" stroke="#1a1a1a" stroke-width="0.6" />
<line x1="488.39" y1="346.30" x2="488.39" y2="379.40" stroke="#1a1a1a" stroke-width="0.6" />
<line x1="485.29" y1="346.30" x2="491.49" y2="346.30" stroke="#1a1a1a" stroke-width="0.6" />
<line x1="485.29" y1="379.40" x2="491.49" y2="379.40" stroke="#1a1a1a" stroke-width="0.6" />
<line x1="488.39" y1="437.30" x2="488.39" y2="464.40" stroke="#1a1a1a" stroke-width="0.6" />
<line x1="485.29" y1="437.30" x2="491.49" y2="437.30" stroke="#1a1a1a" stroke-width="0.6" />
<line x1="485.29" y1="464.40" x2="491.49" y2="464.40" stroke="#1a1a1a" stroke-width="0.6" />
<line x1="531.95" y1="379.40" x2="531.95" y2="412.40" stroke="#1a1a1a" stroke-width="0.6" />
<line x1="528.85" y1="379.40" x2="535.05" y2="379.40" stroke="#1a1a1a" stroke-width="0.6" />
<line x1="528.85" y1="412.40" x2="535.05" y2="412.40" stroke="#1a1a1a" stroke-width="0.6" />
<line x1="531.95" y1="383.20" x2="531.95" y2="433.50" stroke="#1a1a1a" stroke-width="0.6" />
<line x1="528.85" y1="383.20" x2="535.05" y2="383.20" stroke="#1a1a1a" stroke-width="0.6" />
<line x1="528.85" y1="433.50" x2="535.05" y2="433.50" stroke="#1a1a1a" stroke-width="0.6" />
<line x1="575.51" y1="372.50" x2="575.51" y2="402.20" stroke="#1a1a1a" stroke-width="0.6" />
<line x1="572.41" y1="372.50" x2="578.61" y2="372.50" stroke="#1a1a1a" stroke-width="0.6" />
<line x1="572.41" y1="402.20" x2="578.61" y2="402.20" stroke="#1a1a1a" stroke-width="0.6" />
<line x1="575.51" y1="395.10" x2="575.51" y2="423.30" stroke="#1a1a1a" stroke-width="0.6" />
<line x1="572.41" y1="395.10" x2="578.61" y2="395.10" stroke="#1a1a1a" stroke-width="0.6" />
<line x1="572.41" y1="423.30" x2="578.61" y2="423.30" stroke="#1a1a1a" stroke-width="0.6" />
<line x1="619.06" y1="375.00" x2="619.06" y2="394.10" stroke="#1a1a1a" stroke-width="0.6" />
<line x1="615.96" y1="375.00" x2="622.16" y2="375.00" stroke="#1a1a1a" stroke-width="0.6" />
<line x1="615.96" y1="394.10" x2="622.16" y2="394.10" stroke="#1a1a1a" stroke-width="0.6" />
<line x1="619.06" y1="421.80" x2="619.06" y2="443.40" stroke="#1a1a1a" stroke-width="0.6" />
<line x1="615.96" y1="421.80" x2="622.16" y2="421.80" stroke="#1a1a1a" stroke-width="0.6" />
<line x1="615.96" y1="443.40" x2="622.16" y2="443.40" stroke="#1a1a1a" stroke-width="0.6" />
<line x1="662.62" y1="385.80" x2="662.62" y2="398.40" stroke="#1a1a1a" stroke-width="0.6" />
<line x1="659.52" y1="385.80" x2="665.72" y2="385.80" stroke="#1a1a1a" stroke-width="0.6" />
<line x1="659.52" y1="398.40" x2="665.72" y2="398.40" stroke="#1a1a1a" stroke-width="0.6" />
<line x1="662.62" y1="382.50" x2="662.62" y2="415.80" stroke="#1a1a1a" stroke-width="0.6" />
<line x1="659.52" y1="382.50" x2="665.72" y2="382.50" stroke="#1a1a1a" stroke-width="0.6" />
<line x1="659.52" y1="415.80" x2="665.72" y2="415.80" stroke="#1a1a1a" stroke-width="0.6" />
<rect x="379.5" y="338.45" width="304.90" height="131.05" fill="none" stroke="#555555" stroke-width="1"/>
<line x1="401.50" y1="469.50" x2="401.50" y2="466.50" stroke="#555555" stroke-width="1" />
<line x1="401.50" y1="338.45" x2="401.50" y2="341.45" stroke="#555555" stroke-width="1" />
<line x1="444.50" y1="469.50" x2="444.50" y2="466.50" stroke="#555555" stroke-width="1" />
<line x1="444.50" y1="338.45" x2="444.50" y2="341.45" stroke="#555555" stroke-width="1" />
<line x1="488.50" y1="469.50" x2="488.50" y2="466.50" stroke="#555555" stroke-width="1" />
<line x1="488.50" y1="338.45" x2="488.50" y2="341.45" stroke="#555555" stroke-width="1" />
<line x1="531.50" y1="469.50" x2="531.50" y2="466.50" stroke="#555555" stroke-width="1" />
<line x1="531.50" y1="338.45" x2="531.50" y2="341.45" stroke="#555555" stroke-width="1" />
<line x1="575.50" y1="469.50" x2="575.50" y2="466.50" stroke="#555555" stroke-width="1" />
<line x1="575.50" y1="338.45" x2="575.50" y2="341.45" stroke="#555555" stroke-width="1" />
<line x1="619.50" y1="469.50" x2="619.50" y2="466.50" stroke="#555555" stroke-width="1" />
<line x1="619.50" y1="338.45" x2="619.50" y2="341.45" stroke="#555555" stroke-width="1" />
<line x1="662.50" y1="469.50" x2="662.50" y2="466.50" stroke="#555555" stroke-width="1" />
<line x1="662.50" y1="338.45" x2="662.50" y2="341.45" stroke="#555555" stroke-width="1" />
<line x1="379.50" y1="357.50" x2="382.50" y2="357.50" stroke="#555555" stroke-width="1" />
<line x1="684.40" y1="357.50" x2="681.40" y2="357.50" stroke="#555555" stroke-width="1" />
<text x="375.30" y="361.00" font-size="11.5" text-anchor="end" font-weight="normal" >0.2</text>
<line x1="379.50" y1="380.50" x2="382.50" y2="380.50" stroke="#555555" stroke-width="1" />
<line x1="684.40" y1="380.50" x2="681.40" y2="380.50" stroke="#555555" stroke-width="1" />
<text x="375.30" y="384.30" font-size="11.5" text-anchor="end" font-weight="normal" >0.1</text>
<line x1="379.50" y1="403.50" x2="382.50" y2="403.50" stroke="#555555" stroke-width="1" />
<line x1="684.40" y1="403.50" x2="681.40" y2="403.50" stroke="#555555" stroke-width="1" />
<text x="375.30" y="407.60" font-size="11.5" text-anchor="end" font-weight="normal" >0</text>
<line x1="379.50" y1="427.50" x2="382.50" y2="427.50" stroke="#555555" stroke-width="1" />
<line x1="684.40" y1="427.50" x2="681.40" y2="427.50" stroke="#555555" stroke-width="1" />
<text x="375.30" y="430.90" font-size="11.5" text-anchor="end" font-weight="normal" >–0.1</text>
<line x1="379.50" y1="450.50" x2="382.50" y2="450.50" stroke="#555555" stroke-width="1" />
<line x1="684.40" y1="450.50" x2="681.40" y2="450.50" stroke="#555555" stroke-width="1" />
<text x="375.30" y="454.20" font-size="11.5" text-anchor="end" font-weight="normal" >–0.2</text>
<text x="389.30" y="28.70" font-size="10" text-anchor="start" font-weight="normal" >SPEI</text>
<text x="389.30" y="191.00" font-size="10" text-anchor="start" font-weight="normal" >P - PET</text>
<text x="389.30" y="354.00" font-size="10" text-anchor="start" font-weight="normal" >Soil moisture</text>
<text x="406.88" y="480.20" font-size="11.2" text-anchor="end" transform="rotate(-30 406.88 480.20)">&lt;400</text>
<text x="450.44" y="480.20" font-size="11.2" text-anchor="end" transform="rotate(-30 450.44 480.20)">400–600</text>
<text x="493.99" y="480.20" font-size="11.2" text-anchor="end" transform="rotate(-30 493.99 480.20)">600–800</text>
<text x="537.55" y="480.20" font-size="11.2" text-anchor="end" transform="rotate(-30 537.55 480.20)">800–1000</text>
<text x="581.11" y="480.20" font-size="11.2" text-anchor="end" transform="rotate(-30 581.11 480.20)">&gt;1000 mm</text>
<text x="624.66" y="480.20" font-size="11.2" text-anchor="end" transform="rotate(-30 624.66 480.20)">Gymosperms</text>
<text x="668.22" y="480.20" font-size="11.2" text-anchor="end" transform="rotate(-30 668.22 480.20)">Angiosperms</text>
<text transform="translate(45.0 10.7) scale(0.9 1)" font-size="14.5" font-weight="bold">a</text>
<text transform="translate(379.0 10.9) scale(0.9 1)" font-size="14.5" font-weight="bold">b</text>
<text transform="translate(46.5 172.8) scale(0.9 1)" font-size="14.5" font-weight="bold">c</text>
<text transform="translate(379.4 172.3) scale(0.9 1)" font-size="14.5" font-weight="bold">d</text>
<text transform="translate(45.8 333.9) scale(0.9 1)" font-size="14.5" font-weight="bold">e</text>
<text transform="translate(380.1 334.1) scale(0.9 1)" font-size="14.5" font-weight="bold">f</text>
<text x="8.7" y="244.8" font-size="11.5" text-anchor="middle" transform="rotate(-90 8.7 244.8)">Obs - pred growth</text>
</svg></body></html>
